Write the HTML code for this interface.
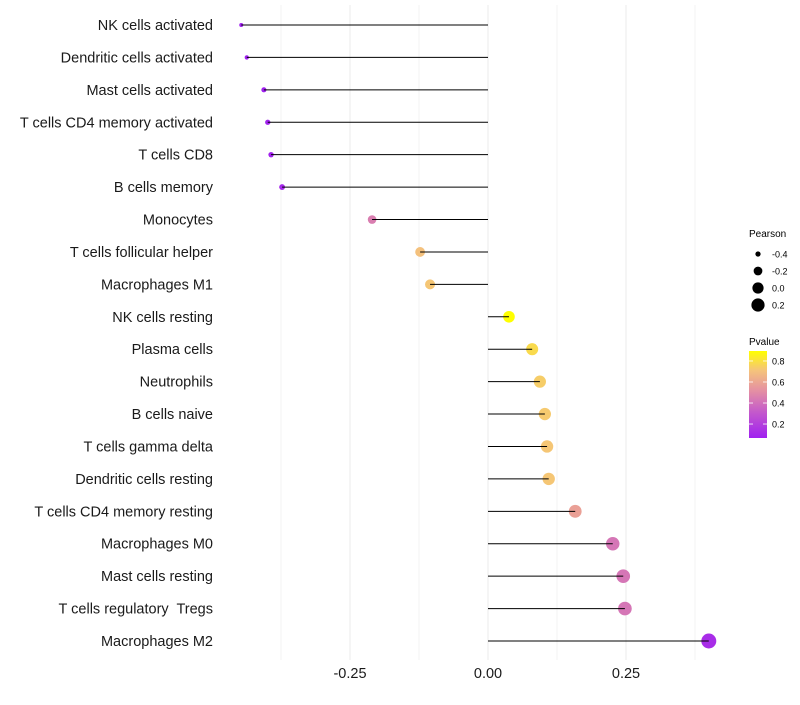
<!DOCTYPE html>
<html><head><meta charset="utf-8"><style>
body{margin:0;background:#fff;font-family:"Liberation Sans",sans-serif;}
svg text{font-family:"Liberation Sans",sans-serif;white-space:pre;}
</style></head><body>
<svg width="800" height="700" xmlns="http://www.w3.org/2000/svg">
<defs><linearGradient id="pg" x1="0" y1="1" x2="0" y2="0">
<stop offset="0" stop-color="#A020F0"/><stop offset="0.3" stop-color="#C45ACB"/><stop offset="0.55" stop-color="#E591A2"/><stop offset="0.78" stop-color="#F5C47A"/><stop offset="1" stop-color="#FFFF00"/></linearGradient></defs>
<g id="grid"></g>
<g id="marks"></g>
<g id="ylabels"></g>
<g id="xlabels"></g>
<g>
<text x="749" y="237" font-size="10" fill="#000">Pearson</text>
<g id="sizeleg"></g>
</g>
<g>
<text x="749" y="345" font-size="10" fill="#000">Pvalue</text>
<rect x="749" y="351" width="18" height="87" fill="url(#pg)"/>
<g id="colleg"></g>
</g>
</svg>
<script>
const categories=["NK cells activated","Dendritic cells activated","Mast cells activated","T cells CD4 memory activated","T cells CD8","B cells memory","Monocytes","T cells follicular helper","Macrophages M1","NK cells resting","Plasma cells","Neutrophils","B cells naive","T cells gamma delta","Dendritic cells resting","T cells CD4 memory resting","Macrophages M0","Mast cells resting","T cells regulatory  Tregs","Macrophages M2"];
const pearson=[-0.447,-0.437,-0.406,-0.399,-0.393,-0.373,-0.210,-0.123,-0.105,0.038,0.080,0.094,0.103,0.107,0.110,0.158,0.226,0.245,0.248,0.400];
const pvalue=[0.05,0.05,0.07,0.08,0.08,0.1,0.45,0.7,0.72,0.9,0.78,0.74,0.73,0.72,0.72,0.58,0.42,0.42,0.42,0.12];
const xTicks=[-0.25,0,0.25];
const xTickLabels=["-0.25","0.00","0.25"];
const sizeLegend=[-0.4,-0.2,0.0,0.2];
const sizeLegendLabels=["-0.4","-0.2","0.0","0.2"];
const colLegend=[0.8,0.6,0.4,0.2];
const colLegendLabels=["0.8","0.6","0.4","0.2"];
const NS="http://www.w3.org/2000/svg";
function X(v){return 488+v*552;}
function Y(i){return 25+i*(616/19);}
function R(v){const t=(v+0.447)/0.847;return Math.sqrt(4+52*t);}
function PY(p){return 438-(p-0.067)/(0.895-0.067)*87;}
function lerp(a,b,t){return a+(b-a)*t;}
const stops=[[0,[160,32,240]],[0.3,[196,90,203]],[0.55,[229,145,162]],[0.78,[245,196,122]],[1,[255,255,0]]];
function C(p){let t=(p-0.067)/(0.895-0.067);t=Math.max(0,Math.min(1,t));for(let k=1;k<stops.length;k++){if(t<=stops[k][0]){const a=stops[k-1],b=stops[k];const u=(t-a[0])/(b[0]-a[0]);return "rgb("+a[1].map((c,j)=>Math.round(lerp(c,b[1][j],u))).join(",")+")";}}return "rgb(255,255,0)";}
function mk(t,at,parent){const e=document.createElementNS(NS,t);for(const k in at)e.setAttribute(k,at[k]);parent.appendChild(e);return e;}
const grid=document.getElementById('grid'),marks=document.getElementById('marks'),yl=document.getElementById('ylabels'),xl=document.getElementById('xlabels');
for(let v=-0.375;v<=0.38;v+=0.125){const g=mk('line',{x1:X(v),x2:X(v),y1:5,y2:660,stroke:"#ebebeb","stroke-width":Math.abs((v/0.125)%2)>0.5?0.6:1},grid);

}
categories.forEach((c,i)=>{
const pt=mk('circle',{cx:X(pearson[i]),cy:Y(i),r:R(pearson[i]),fill:C(pvalue[i])},marks);


const ln=mk('line',{x1:X(0),x2:X(pearson[i]),y1:Y(i),y2:Y(i),stroke:"#000","stroke-width":1},marks);


const t=mk('text',{x:213,y:Y(i)+5,"text-anchor":"end","font-size":14.5,fill:"#1a1a1a"},yl);t.textContent=c;


});
xTicks.forEach((v,i)=>{const t=mk('text',{x:X(v),y:678,"text-anchor":"middle","font-size":14.5,fill:"#1a1a1a"},xl);t.textContent=xTickLabels[i];

});
const sl=document.getElementById('sizeleg');
sizeLegend.forEach((v,i)=>{const y=254+i*17;const c=mk('circle',{cx:758,cy:y,r:R(v),fill:"#000"},sl);


const t=mk('text',{x:772,y:y+3.5,"font-size":9,fill:"#000"},sl);t.textContent=sizeLegendLabels[i];

});
const cl=document.getElementById('colleg');
colLegend.forEach((p,i)=>{const y=PY(p);mk('line',{x1:749,x2:753,y1:y,y2:y,stroke:"#fff","stroke-width":0.8},cl);mk('line',{x1:763,x2:767,y1:y,y2:y,stroke:"#fff","stroke-width":0.8},cl);
const t=mk('text',{x:772,y:y+3.5,"font-size":9,fill:"#000"},cl);t.textContent=colLegendLabels[i];

});
</script>
</body></html>
